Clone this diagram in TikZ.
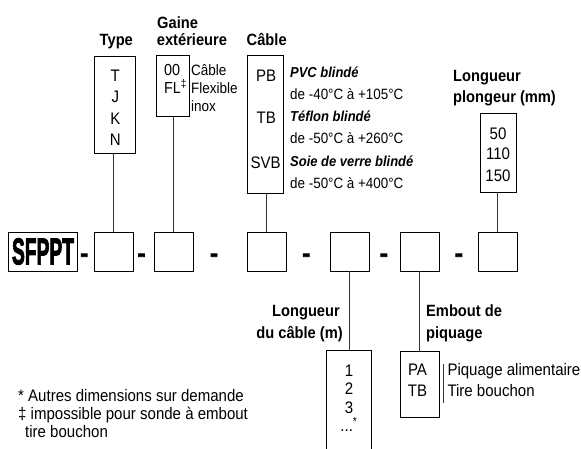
\documentclass[tikz,border=0pt]{standalone}
\usepackage{fontspec}
\setmainfont{Liberation Sans}[FakeStretch=0.9]
\newfontfamily\sfpptfont[UprightFont={* Bold},FakeBold=3]{Liberation Sans}
\begin{document}
\begin{tikzpicture}[x=1pt,y=-1pt,
  box/.style={draw=black,line width=0.8pt,inner sep=0pt,outer sep=0pt},
  conn/.style={draw=black!80,line width=0.8pt},
  hdr/.style={font=\fontsize{16.3}{19}\selectfont\bfseries,inner sep=0pt},
  txt/.style={font=\fontsize{16.7}{19}\selectfont,inner sep=0pt},
  sml/.style={font=\fontsize{15}{17}\selectfont,inner sep=0pt},
  desc/.style={font=\fontsize{14.9}{17}\selectfont,inner sep=0pt,anchor=base west},
  descb/.style={font=\fontsize{14.4}{17}\selectfont\bfseries\itshape,inner sep=0pt,anchor=base west},
  dsh/.style={font=\fontsize{24}{26}\selectfont\sfpptfont,inner sep=0pt,anchor=base}]
\useasboundingbox (0,0) rectangle (581,448);

% main row
\node[box,minimum width=69.4pt,minimum height=39pt] (sf) at (43,251.5)
  {\resizebox{62pt}{26pt}{\sfpptfont SFPPT}};
\node[box,minimum width=39pt,minimum height=39pt] (b1) at (113.5,251.5) {};
\node[box,minimum width=39pt,minimum height=39pt] (b2) at (173.5,251.5) {};
\node[box,minimum width=39pt,minimum height=39pt] (b3) at (266.7,251.5) {};
\node[box,minimum width=39pt,minimum height=39pt] (b4) at (349.8,251.5) {};
\node[box,minimum width=39pt,minimum height=39pt] (b5) at (419.8,251.5) {};
\node[box,minimum width=39pt,minimum height=39pt] (b6) at (497.6,251.5) {};
\node[dsh] (d1) at (84.2,261.5) {-};
\node[dsh] (d2) at (141.5,261.5) {-};
\node[dsh] (d3) at (214.1,261.5) {-};
\node[dsh] (d4) at (306.2,261.5) {-};
\node[dsh] (d5) at (383.9,261.5) {-};
\node[dsh] (d6) at (458.9,261.5) {-};

% Type
\node[hdr,anchor=base] (htype) at (116.3,45) {Type};
\node[box,minimum width=40.7pt,minimum height=96.6pt] (tb) at (114.8,105) {};
\node[txt,anchor=base] (tT) at (115.3,81) {T};
\node[txt,anchor=base] (tJ) at (115.3,102.6) {J};
\node[txt,anchor=base] (tK) at (115.3,124.2) {K};
\node[txt,anchor=base] (tN) at (115.3,145.8) {N};
\draw[conn] (b1.north) -- (b1.north |- tb.south);

% Gaine
\node[hdr,anchor=base west] (hg1) at (157,28.3) {Gaine};
\node[hdr,anchor=base west] (hg2) at (156.7,45.7) {extérieure};
\node[box,minimum width=33.3pt,minimum height=61.7pt] (gb) at (172.65,85.85) {};
\node[sml,anchor=base west,font=\fontsize{16}{18}\selectfont] (g00) at (163.8,75.5) {00};
\node[sml,anchor=base west,font=\fontsize{16}{18}\selectfont] (gFL) at (163.8,93.5) {FL\textsuperscript{‡}};
\node[sml,anchor=base west] (gc1) at (191,75.5) {Câble};
\node[sml,anchor=base west] (gc2) at (191,93.5) {Flexible};
\node[sml,anchor=base west] (gc3) at (191,111.5) {inox};
\draw[conn] (b2.north) -- (b2.north |- gb.south);

% Cable
\node[hdr,anchor=base] (hc) at (266.7,45) {Câble};
\node[box,minimum width=36pt,minimum height=138.3pt] (cb) at (265.7,124.15) {};
\node[txt,anchor=base] (cPB) at (266.2,81) {PB};
\node[txt,anchor=base] (cTB) at (266.2,123) {TB};
\node[txt,anchor=base] (cSVB) at (265.7,168) {SVB};
\node[descb] (c1) at (290,77.5) {PVC blindé};
\node[desc] (c2) at (290,99) {de -40°C à +105°C};
\node[descb] (c3) at (290,121.5) {Téflon blindé};
\node[desc] (c4) at (290,143) {de -50°C à +260°C};
\node[descb] (c5) at (290,166.5) {Soie de verre blindé};
\node[desc] (c6) at (290,188) {de -50°C à +400°C};
\draw[conn] (b3.north) -- (b3.north |- cb.south);

% Longueur plongeur
\node[hdr,anchor=base west] (hp1) at (453,81.7) {Longueur};
\node[hdr,anchor=base west] (hp2) at (453,102.7) {plongeur (mm)};
\node[box,minimum width=36pt,minimum height=79pt] (pb) at (498,152.5) {};
\node[txt,anchor=base] (p50) at (498,139) {50};
\node[txt,anchor=base] (p110) at (498,159) {110};
\node[txt,anchor=base] (p150) at (498,181) {150};
\draw[conn] (b6.north) -- (b6.north |- pb.south);

% Longueur du cable
\node[hdr,anchor=base east] (hl1) at (340,316.7) {Longueur};
\node[hdr,anchor=base east] (hl2) at (343,338.3) {du câble (m)};
\node[box,minimum width=44.3pt,minimum height=105pt] (lb) at (348.85,402.5) {};
\node[txt,anchor=base] (l1) at (349,376) {1};
\node[txt,anchor=base] (l2) at (349,394.5) {2};
\node[txt,anchor=base] (l3) at (349,413) {3};
\node[txt,anchor=base] (l4) at (349,431.5) {...\textsuperscript{*}};
\draw[conn] (b4.south) -- (b4.south |- lb.north);

% Embout
\node[hdr,anchor=base west] (he1) at (426,316.7) {Embout de};
\node[hdr,anchor=base west] (he2) at (426,338.3) {piquage};
\node[box,minimum width=39.3pt,minimum height=65.3pt] (eb) at (419.65,384.35) {};
\node[txt,anchor=base] (ePA) at (417.5,375) {PA};
\node[txt,anchor=base] (eTB) at (417.5,396) {TB};
\coordinate (bartop) at (443.3,364);
\coordinate (barbot) at (443.3,403);
\draw[conn,line width=0.7pt] (bartop) -- (barbot);
\node[txt,anchor=base west] (e1) at (447.3,375) {Piquage alimentaire};
\node[txt,anchor=base west] (e2) at (447.3,396) {Tire bouchon};
\draw[conn] (b5.south) -- (b5.south |- eb.north);

% footnotes
\node[txt,anchor=base west] (f1) at (18,401) {* Autres dimensions sur demande};
\node[txt,anchor=base west] (f2) at (18,419.3) {‡ impossible pour sonde à embout};
\node[txt,anchor=base west] (f3) at (25,437.5) {tire bouchon};
\end{tikzpicture}
\end{document}
